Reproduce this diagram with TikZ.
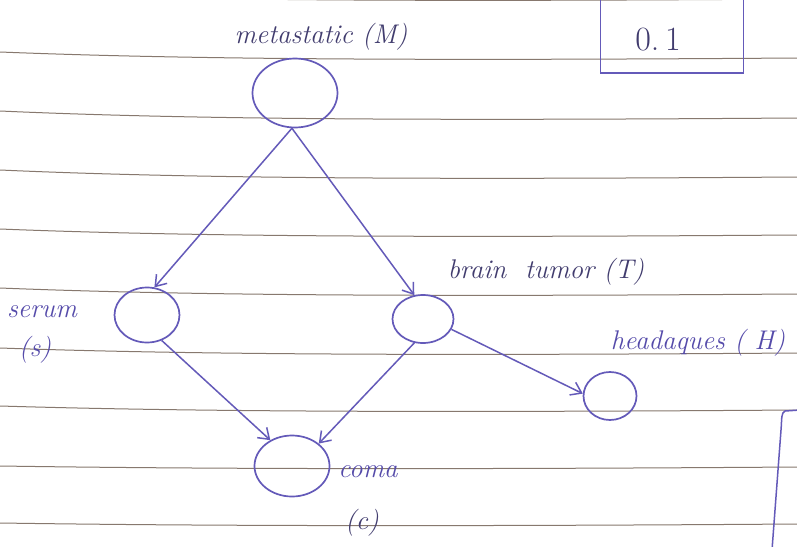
\documentclass[tikz,border=0pt]{standalone}
\usetikzlibrary{shapes.geometric,arrows.meta}
\definecolor{ink}{RGB}{100,90,185}
\definecolor{txtdark}{RGB}{65,60,110}
\definecolor{txtblue}{RGB}{85,75,170}
\definecolor{rulec}{RGB}{135,120,110}
\begin{document}
\begin{tikzpicture}[x=1pt,y=-1pt,
  rv/.style={draw=ink, line width=1.7pt, ellipse, inner sep=0pt},
  edge/.style={draw=ink, line width=1.5pt, -{Straight Barb[length=10pt,width=14pt,line width=1.5pt]}},
  rule/.style={draw=rulec, line width=1pt},
  lbl/.style={font=\fontsize{27}{31}\selectfont\itshape, text=txtdark, inner sep=0pt},
  lblb/.style={lbl, text=txtblue},
  box/.style={draw=ink, line width=1.6pt, inner sep=0pt}]
\useasboundingbox (0,0) rectangle (797,546);
\clip (0,0) rectangle (797,546);
\fill[white] (0,0) rectangle (797,546);
\foreach \m/\d in {1/8,60/8,120/9,179/9,237/8,296/8,355/7,412/6,469/3,526/3}
  \draw[rule] (0,\m-\d) .. controls (200,\m) and (450,\m+0.5) .. (797,\m-2);

% random variables
\node[rv, minimum width=85pt, minimum height=69pt] (M) at (295,93) {};
\node[rv, minimum width=65pt, minimum height=55pt] (S) at (147,315) {};
\node[rv, minimum width=61pt, minimum height=48pt] (T) at (423,319) {};
\node[rv, minimum width=53pt, minimum height=48pt] (H) at (610,396) {};
\node[rv, minimum width=75pt, minimum height=61pt] (C) at (292,466) {};

% labels
\node[lbl] (lM) at (321,37) {metastatic (M)};
\node[lbl] (lT) at (546,272) {brain\ \ tumor (T)};
\node[lblb] (lS) at (42,312) {serum};
\node[lblb] (lS2) at (35,350) {(s)};
\node[lblb] (lH) at (698,343) {headaques ( H)};
\node[lblb] (lC) at (368,472) {coma};
\node[lbl] (lC2) at (362,523) {(c)};

% probability box
\node[box, minimum width=143pt, minimum height=90pt] (P) at (672,28) {};
\node[font=\fontsize{34}{38}\selectfont, text=txtdark, inner sep=0pt] (p) at (658,40) {0.\,1};

% partial box at right edge
\coordinate (rtop) at (800,410);
\coordinate (rbot) at (772,550);
\draw[ink, line width=1.5pt] (rtop) -- (785,411) .. controls (781,413) and (782,418) .. (781,430) -- (rbot);

% edges
\draw[edge] (M.-95) -- (S.75);
\draw[edge] (M.-95) -- (T.110);
\draw[edge] (S.-60) -- (C.130);
\draw[edge] (T.-110) -- (C.40);
\draw[edge] (T.-20) -- (H.175);
\end{tikzpicture}
\end{document}
